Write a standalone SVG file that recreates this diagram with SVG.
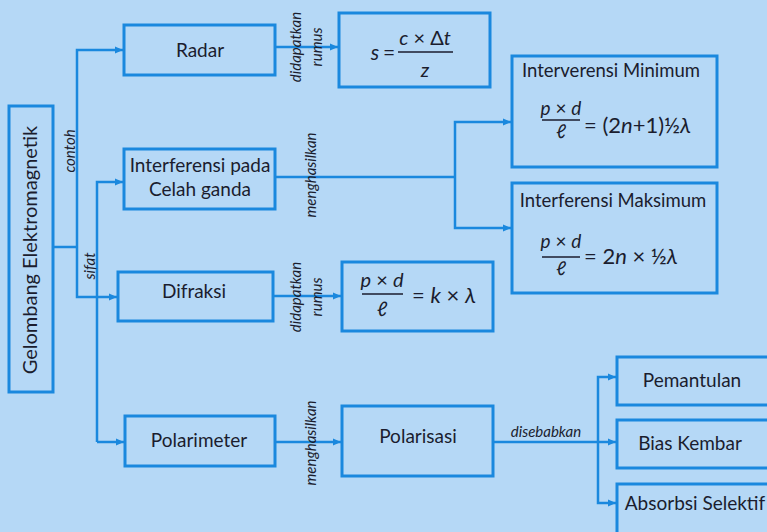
<svg xmlns="http://www.w3.org/2000/svg" width="767" height="532" viewBox="0 0 767 532">
<defs>
<style>
.box{fill:none;stroke:#1a88de;stroke-width:3}
.con{fill:none;stroke:#1a88de;stroke-width:2.5}
.t{font-family:Lato,"Open Sans",sans-serif;font-size:19px;fill:#1b1d2e;text-anchor:middle}
.lbl{font-family:Lato,"Open Sans",sans-serif;font-size:15px;font-style:italic;fill:#1b1d2e;text-anchor:middle}
.f{font-family:Lato,"Open Sans",sans-serif;fill:#1b1d2e}
.i{font-style:italic}
.bar{stroke:#1b1d2e;stroke-width:1.5}
</style>
<marker id="ah" markerUnits="userSpaceOnUse" markerWidth="9" markerHeight="8" refX="8" refY="4" orient="auto">
<path d="M0,0.5 L8,4 L0,7.5 z" fill="#1a88de"/>
</marker>
</defs>
<rect width="767" height="532" fill="#b5d8f6"/>

<g id="connectors">
<path class="con" d="M53,247 H77"/>
<path class="con" d="M77,247 V50 H123" marker-end="url(#ah)"/>
<path class="con" d="M77,247 V297 H117" marker-end="url(#ah)"/>
<path class="con" d="M97,442 V182 H123" marker-end="url(#ah)"/>
<path class="con" d="M97,442 H124" marker-end="url(#ah)"/>
<path class="con" d="M275,47 H338" marker-end="url(#ah)"/>
<path class="con" d="M275,177 H455"/>
<path class="con" d="M455,177 V122 H511" marker-end="url(#ah)"/>
<path class="con" d="M455,177 V228 H511" marker-end="url(#ah)"/>
<path class="con" d="M273,296 H341" marker-end="url(#ah)"/>
<path class="con" d="M275,442 H341" marker-end="url(#ah)"/>
<path class="con" d="M493,442 H598"/>
<path class="con" d="M598,442 V377 H616" marker-end="url(#ah)"/>
<path class="con" d="M598,442 H616" marker-end="url(#ah)"/>
<path class="con" d="M598,442 V503 H616" marker-end="url(#ah)"/>
<text class="lbl" transform="translate(75,151) rotate(-90)">contoh</text>
<text class="lbl" transform="translate(95,266) rotate(-90)">sifat</text>
<text class="lbl" transform="translate(301,47) rotate(-90)">didapatkan</text>
<text class="lbl" transform="translate(322,47) rotate(-90)">rumus</text>
<text class="lbl" transform="translate(316,175) rotate(-90)">menghasilkan</text>
<text class="lbl" transform="translate(301,297) rotate(-90)">didapatkan</text>
<text class="lbl" transform="translate(322,297) rotate(-90)">rumus</text>
<text class="lbl" transform="translate(316,443) rotate(-90)">menghasilkan</text>
<text class="lbl" x="546" y="437">disebabkan</text>
</g>

<g id="gelombang">
<rect class="box" x="9" y="106" width="44" height="286"/>
<text class="t" style="font-size:20px" transform="translate(37,250) rotate(-90)">Gelombang  Elektromagnetik</text>
</g>

<g id="radar">
<rect class="box" x="124" y="25" width="151" height="50"/>
<text class="t" x="200" y="57">Radar</text>
</g>

<g id="interferensi">
<rect class="box" x="124" y="149" width="151" height="60"/>
<text class="t" x="200" y="172">Interferensi pada</text>
<text class="t" x="200" y="196">Celah ganda</text>
</g>

<g id="difraksi">
<rect class="box" x="118" y="272" width="155" height="49"/>
<text class="t" x="194" y="298">Difraksi</text>
</g>

<g id="polarimeter">
<rect class="box" x="125" y="416" width="150" height="50"/>
<text class="t" x="199" y="447">Polarimeter</text>
</g>

<g id="rumus-radar">
<rect class="box" x="339" y="13" width="151" height="74"/>
<text class="f i" x="375" y="60" font-size="21" text-anchor="middle">s</text>
<text class="f" x="389" y="60" font-size="21" text-anchor="middle">=</text>
<line class="bar" x1="398" y1="52" x2="453" y2="52"/>
<text class="f" x="425" y="45" font-size="20" text-anchor="middle"><tspan class="i">c</tspan> × Δ<tspan class="i">t</tspan></text>
<text class="f i" x="425" y="77" font-size="20" text-anchor="middle">z</text>
</g>

<g id="minimum">
<rect class="box" x="512" y="56" width="205" height="111"/>
<text class="t" style="font-size:18.5px" x="611" y="77">Interverensi Minimum</text>
<line class="bar" x1="542" y1="120" x2="580" y2="120"/>
<text class="f" x="561" y="115" font-size="19" text-anchor="middle"><tspan class="i">p</tspan> × <tspan class="i">d</tspan></text>
<text class="f i" x="561" y="138" font-size="19" text-anchor="middle">ℓ</text>
<text class="f" x="584" y="133" font-size="22">= (2<tspan class="i">n</tspan>+1)½<tspan class="i">λ</tspan></text>
</g>

<g id="maksimum">
<rect class="box" x="512" y="183" width="205" height="110"/>
<text class="t" style="font-size:18.5px" x="613" y="207">Interferensi Maksimum</text>
<line class="bar" x1="542" y1="257" x2="580" y2="257"/>
<text class="f" x="561" y="248" font-size="19" text-anchor="middle"><tspan class="i">p</tspan> × <tspan class="i">d</tspan></text>
<text class="f i" x="561" y="275" font-size="19" text-anchor="middle">ℓ</text>
<text class="f" x="584" y="264" font-size="22">= 2<tspan class="i">n</tspan> × ½<tspan class="i">λ</tspan></text>
</g>

<g id="rumus-difraksi">
<rect class="box" x="342" y="262" width="151" height="69"/>
<line class="bar" x1="362" y1="294" x2="403" y2="294"/>
<text class="f" x="382" y="287" font-size="20" text-anchor="middle"><tspan class="i">p</tspan> × <tspan class="i">d</tspan></text>
<text class="f i" x="382" y="316" font-size="20" text-anchor="middle">ℓ</text>
<text class="f" x="412" y="303" font-size="22">= <tspan class="i">k</tspan> × <tspan class="i">λ</tspan></text>
</g>

<g id="polarisasi">
<rect class="box" x="342" y="406" width="151" height="70"/>
<text class="t" x="418" y="443">Polarisasi</text>
</g>

<g id="pemantulan">
<rect class="box" x="617" y="357" width="165" height="48"/>
<text class="t" x="692" y="387">Pemantulan</text>
</g>

<g id="bias-kembar">
<rect class="box" x="617" y="420" width="165" height="48"/>
<text class="t" x="690" y="450">Bias Kembar</text>
</g>

<g id="absorbsi">
<rect class="box" x="617" y="484" width="165" height="60"/>
<text class="t" x="695" y="510">Absorbsi Selektif</text>
</g>
</svg>
